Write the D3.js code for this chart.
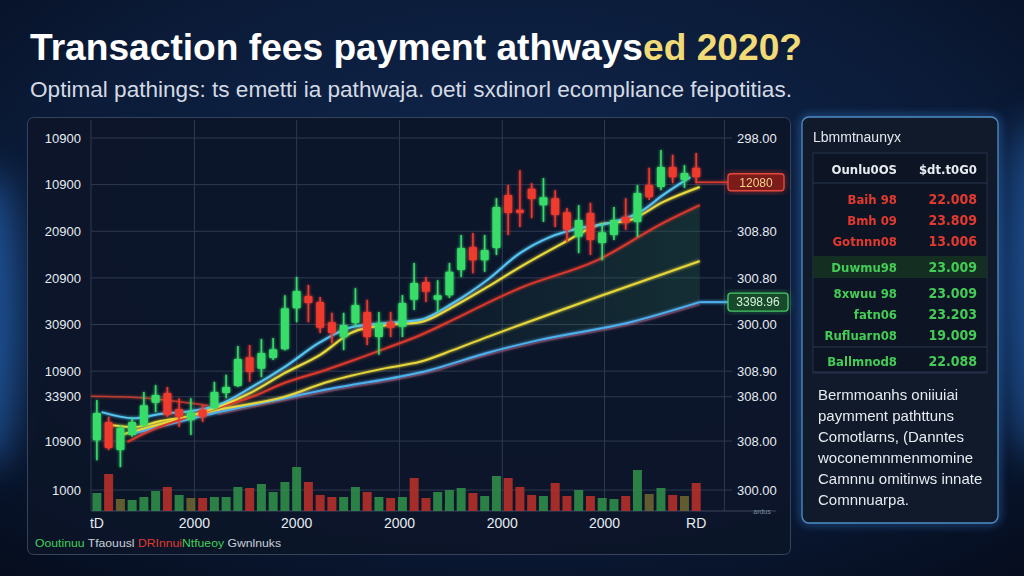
<!DOCTYPE html>
<html>
<head>
<meta charset="utf-8">
<script src="https://cdn.jsdelivr.net/npm/d3@7"></script>
<style>
  html, body { margin: 0; padding: 0; background: #0a1630; overflow: hidden; }
  svg { display: block; }
</style>
</head>
<body>
<svg id="chart" width="1024" height="576"></svg>
<script>
const width = 1024, height = 576;

// ---- data ----
const opens  = [25.2,29.1,23.1,26.3,28.4,33.2,35.3,31.9,29.5,31.7, 32.1,35.3,36.8,43.0,40.5,42.8,44.7,53.5,56.1,54.8,
                50.5,47.3,50.3,52.7,47.3,50.5,49.5,55.3,59.1,55.3, 56.3,61.7,66.6,63.8,66.4,77.8,74.6,79.1,75.6,77.1,
                74.1,68.8,73.9,67.5,69.2,73.1,72.0,79.9,79.5,83.8, 81.0,83.6];
const closes = [31.0,23.5,27.8,29.1,32.7,34.9,30.6,30.2,31.2,30.2, 35.5,36.6,42.6,39.8,43.9,44.7,53.5,57.2,54.6,49.3,
                48.2,49.9,54.2,47.3,50.3,49.3,54.6,58.9,57.0,56.3, 61.3,66.4,63.8,66.0,75.2,73.9,73.9,76.9,77.3,73.5,
                70.3,72.4,68.1,69.8,72.4,71.8,78.2,77.3,83.8,81.6, 82.5,81.6];
const highs  = [33.8,30.2,28.4,29.9,35.5,37.0,36.6,34.2,34.2,32.7, 37.7,39.2,45.4,45.6,46.9,47.1,56.3,60.2,58.5,55.9,
                52.5,52.5,57.8,55.3,52.7,52.7,56.3,63.2,60.2,59.5, 63.2,69.2,69.6,69.2,77.1,79.9,83.1,80.3,81.4,78.8,
                75.0,75.6,76.1,71.8,75.2,77.1,79.9,83.6,87.4,86.4, 84.2,86.8];
const lows   = [20.9,23.1,19.4,25.9,28.0,31.2,30.2,28.0,26.3,29.1, 31.7,34.2,36.6,37.7,38.7,42.4,44.5,50.5,50.5,48.2,
                46.0,44.5,49.5,45.6,43.5,47.3,47.3,53.1,54.8,52.7, 55.7,60.2,61.0,61.3,64.9,69.2,70.9,72.8,72.0,70.9,
                67.7,65.3,64.9,63.8,68.1,70.3,68.8,76.7,78.8,80.3, 79.3,80.3];
const volumes = [18,37,12,11,14,20,24,16,13,13, 14,14,24,23,27,19,29,44,29,16,
                 14,14,24,19,14,13,14,33,13,19, 21,23,18,15,35,33,24,16,15,28,
                 15,21,15,13,12,15,41,17,23,16, 15,28];
const volumeKinds = "GROGGGRGORGGGRGGGGRRRGGRGRGRRGGGRGGRRRGRRGRGGRGOGROR".split("");

// moving averages: [candle index, value]
const maFastCyan = [[0.4,31.2],[3.1,29.9],[5.4,30.8],[7.9,31.4],[10.3,32.7],[13.2,36.6],[16,40.9],[19,46.2],[21.8,49.5],
                    [24.7,50.3],[27.5,51.0],[30.3,54.6],[33.2,59.5],[36,65.3],[38.6,68.8],[41.1,70.7],[43.7,71.8],
                    [46.2,74.1],[48.2,77.8],[50.5,81.6]];
const maYellow = [[1.3,28.4],[3.2,28.0],[5.4,29.3],[7.9,30.4],[10.3,32.3],[13.2,35.5],[16,39.6],[19,43.5],[21.8,48.4],
                  [24.7,49.9],[27.5,50.5],[30.3,53.8],[33.2,58.0],[36,62.3],[39.7,67.5],[42.6,71.3],[45.4,72.4],
                  [48.2,76.3],[51.3,79.5]];
const maRed = [[2.6,24.8],[4.7,27.4],[7.5,29.9],[10.3,32.1],[13.2,34.5],[16,37.5],[19.4,40.2],[24.7,45.0],[27.5,47.7],
               [30.3,51.0],[33.2,54.6],[36,57.8],[42.6,63.8],[48.2,71.8],[51.3,75.6]];
const maSlowYellow = [[2,26.3],[10.3,31.7],[16,34.5],[19.4,37.5],[24.7,40.7],[27.5,42.0],[30.3,44.5],[33.2,47.3],
                      [36,49.9],[42.6,55.9],[51.3,63.6]];
const maSlowBlue = [[3.2,26.7],[10.3,31.2],[16,34.2],[19.4,36.0],[28.3,40.2],[33.2,43.9],[37.7,46.7],[45.4,50.5],[51.3,54.8]];
const maSlowPink = [[10.3,30.7],[16,33.7],[19.4,35.5],[28.3,39.7],[33.2,43.4],[37.7,46.2],[45.4,50.0],[51.3,54.3]];
const leftLevel = [[-0.5,34.6],[3.7,34.3],[9.5,32.6]];

const lastPrice = 80.5, lastPriceLabel = "12080";
const slowPriceLabel = "3398.96";

const yTickValues = [90, 80, 70, 60, 50, 40, 34.5, 25, 14.5];
const yLeftLabels = ["10900","10900","20900","20900","30900","10900","33900","10900","1000"];
const yRightLabels = ["298.00","","308.80","300.80","300.00","308.90","308.00","308.00","300.00"];
const xGridValues = [-0.5, 8.3, 17, 25.75, 34.5, 43.2, 53.4];
const xTickValues = [0, 8.3, 17, 25.75, 34.5, 43.2, 51];
const xTickLabels = ["tD","2000","2000","2000","2000","2000","RD"];

const legendParts = [
  {text: "Ooutinuu ", kind: "up"}, {text: "Tfaouusl  ", kind: "plain"},
  {text: "DRInnui", kind: "down"}, {text: "Ntfueoy ", kind: "up"}, {text: "Gwnlnuks", kind: "plain"}
];

const panelTitle = "Lbmmtnaunyx";
const tableHeader = ["Ounlu0OS", "$dt.t0G0"];
const rowNames  = ["Baih 98","Bmh 09","Gotnnn08","Duwmu98","8xwuu 98","fatn06","Rufluarn08","Ballmnod8"];
const rowValues = ["22.008","23.809","13.006","23.009","23.009","23.203","19.009","22.088"];
const rowKinds  = ["down","down","down","up","up","up","up","up"];
const rowGroups = [0,0,0,1,2,2,2,3];
const noteLines = ["Bermmoanhs oniiuiai","paymment pathttuns","Comotlarns, (Danntes",
                   "woconemnmenmomine","Camnnu omitinws innate","Comnnuarpa."];

const titleMain = "Transaction fees payment athways", titleTail = "ed 2020?";
const subtitle = "Optimal pathings: ts emetti ia pathwaja. oeti sxdinorl ecompliance feipotitias.";

// ---- drawing ----
const svg = d3.select("#chart");
const defs = svg.append("defs");

const bg = defs.append("radialGradient").attr("id", "bg").attr("cx", "50%").attr("cy", "40%").attr("r", "80%");
bg.append("stop").attr("offset", "0%").attr("stop-color", "#112850");
bg.append("stop").attr("offset", "60%").attr("stop-color", "#0b1b38");
bg.append("stop").attr("offset", "100%").attr("stop-color", "#050c1c");

const glow = defs.append("filter").attr("id", "glow").attr("x", "-50%").attr("y", "-50%").attr("width", "200%").attr("height", "200%");
glow.append("feGaussianBlur").attr("stdDeviation", 1.8).attr("result", "b");
const gm = glow.append("feMerge");
gm.append("feMergeNode").attr("in", "b");
gm.append("feMergeNode").attr("in", "SourceGraphic");

const soft = defs.append("filter").attr("id", "soft").attr("x", "-50%").attr("y", "-50%").attr("width", "200%").attr("height", "200%");
soft.append("feGaussianBlur").attr("stdDeviation", 18);

const edge = defs.append("filter").attr("id", "edge").attr("x", "-20%").attr("y", "-20%").attr("width", "140%").attr("height", "140%");
edge.append("feGaussianBlur").attr("stdDeviation", 4);

const fillGrad = defs.append("linearGradient").attr("id", "bandFill")
  .attr("gradientUnits", "userSpaceOnUse").attr("x1", 380).attr("x2", 700).attr("y1", 0).attr("y2", 0);
fillGrad.append("stop").attr("offset", "0%").attr("stop-color", "#2f7a50").attr("stop-opacity", 0);
fillGrad.append("stop").attr("offset", "100%").attr("stop-color", "#2f7a50").attr("stop-opacity", 0.24);

svg.append("rect").attr("width", width).attr("height", height).attr("fill", "url(#bg)");
// blue edge glows
svg.append("ellipse").attr("cx", -10).attr("cy", 320).attr("rx", 30).attr("ry", 150)
  .attr("fill", "#2f7fe0").attr("opacity", 0.55).attr("filter", "url(#soft)");
svg.append("ellipse").attr("cx", 1034).attr("cy", 290).attr("rx", 30).attr("ry", 170)
  .attr("fill", "#2f7fe0").attr("opacity", 0.5).attr("filter", "url(#soft)");

// title
const title = svg.append("text").attr("x", 30).attr("y", 60)
  .attr("font-family", "'Liberation Sans', Arial, sans-serif").attr("font-weight", "bold")
  .attr("font-size", 37).attr("textLength", 772).attr("lengthAdjust", "spacingAndGlyphs");
title.append("tspan").attr("fill", "#ffffff").text(titleMain);
title.append("tspan").attr("fill", "#f2db76").text(titleTail);

svg.append("text").attr("x", 30).attr("y", 97)
  .attr("font-family", "'Liberation Sans Narrow', 'Liberation Sans', sans-serif")
  .attr("font-size", 22).attr("fill", "#d3dae4")
  .attr("textLength", 762).attr("lengthAdjust", "spacingAndGlyphs")
  .text(subtitle);

// chart panel
svg.append("rect").attr("x", 27.5).attr("y", 117.5).attr("width", 763).attr("height", 437).attr("rx", 6)
  .attr("fill", "#0c1528").attr("fill-opacity", 0.9).attr("stroke", "#36445b").attr("stroke-width", 1);

const x = d3.scaleLinear().domain([-0.5, 53.4]).range([91, 724.4]);
const y = d3.scaleLinear().domain([10, 90]).range([511, 138]);
const yVol = d3.scaleLinear().domain([0, 50]).range([511, 461]);

const grid = svg.append("g");
grid.selectAll("line.h").data(yTickValues).enter().append("line")
  .attr("x1", 91).attr("x2", 732).attr("y1", d => y(d)).attr("y2", d => y(d))
  .attr("stroke", "#2d3a50").attr("stroke-width", 1);
grid.selectAll("line.v").data(xGridValues).enter().append("line")
  .attr("x1", d => x(d)).attr("x2", d => x(d)).attr("y1", 120).attr("y2", 511)
  .attr("stroke", "#2d3a50").attr("stroke-width", 1);
grid.append("line").attr("x1", 91).attr("x2", 776).attr("y1", 511).attr("y2", 511)
  .attr("stroke", "#3a4860").attr("stroke-width", 1);

const labelFont = "'Liberation Sans', Arial, sans-serif";
svg.append("g").selectAll("text").data(yTickValues).enter().append("text")
  .attr("x", 81).attr("y", d => y(d)).attr("dy", "0.36em").attr("text-anchor", "end")
  .attr("font-family", labelFont).attr("font-size", 13).attr("fill", "#e6ecf3")
  .text((d, i) => yLeftLabels[i]);
svg.append("g").selectAll("text").data(yTickValues).enter().append("text")
  .attr("x", 737).attr("y", d => y(d)).attr("dy", "0.36em")
  .attr("font-family", labelFont).attr("font-size", 13).attr("fill", "#e6ecf3")
  .text((d, i) => yRightLabels[i]);
svg.append("text").attr("x", 762).attr("y", 512).attr("dy", "0.35em").attr("text-anchor", "middle")
  .attr("font-family", labelFont).attr("font-size", 7).attr("fill", "#7f8c9c").text("ardus");

svg.append("g").selectAll("text").data(xTickValues).enter().append("text")
  .attr("x", d => x(d)).attr("y", 528).attr("text-anchor", "middle")
  .attr("font-family", labelFont).attr("font-size", 14).attr("fill", "#e6ecf3")
  .text((d, i) => xTickLabels[i]);

// legend
const legendColor = {up: "#3fcf5a", down: "#e03a30", plain: "#c9d0da"};
const legend = svg.append("text").attr("x", 35).attr("y", 547)
  .attr("font-family", "'Liberation Sans Narrow', 'Liberation Sans', sans-serif").attr("font-size", 11)
  .attr("textLength", 246).attr("lengthAdjust", "spacingAndGlyphs");
legend.selectAll("tspan").data(legendParts).enter().append("tspan")
  .attr("fill", d => legendColor[d.kind]).text(d => d.text);

// volume bars
const volColor = {G: "#2f8c49", R: "#b5302a", O: "#6a6430"};
svg.append("g").selectAll("rect").data(volumes).enter().append("rect")
  .attr("x", (d, i) => x(i) - 4.5).attr("width", 9)
  .attr("y", d => yVol(d)).attr("height", d => yVol(0) - yVol(d))
  .attr("fill", (d, i) => volColor[volumeKinds[i]]).attr("opacity", 0.9);

// shaded band between red MA and slow blue MA
const line = d3.line().x(d => x(d[0])).y(d => y(d[1])).curve(d3.curveMonotoneX);
const bandPath = line(maRed) + "L" + line(maSlowBlue.slice().reverse()).slice(1) + "Z";
svg.append("path").attr("d", bandPath).attr("fill", "url(#bandFill)");

// moving averages
const lineGroup = svg.append("g").attr("filter", "url(#glow)");
const maSeries = [
  {pts: leftLevel, color: "#d8402f", w: 1.6, op: 0.8},
  {pts: maSlowPink, color: "#c8485c", w: 1.6, op: 0.35},
  {pts: maSlowBlue, color: "#4fb0ee", w: 2, op: 1},
  {pts: maSlowYellow, color: "#e6d63a", w: 2, op: 1},
  {pts: maRed, color: "#d9392b", w: 2, op: 1},
  {pts: maYellow, color: "#eadb3c", w: 2, op: 1},
  {pts: maFastCyan, color: "#55c6f2", w: 2, op: 1}
];
lineGroup.selectAll("path").data(maSeries).enter().append("path")
  .attr("d", d => line(d.pts)).attr("fill", "none")
  .attr("stroke", d => d.color).attr("stroke-width", d => d.w).attr("opacity", d => d.op);

// level lines to the price tags
const lastSlow = maSlowBlue[maSlowBlue.length - 1];
lineGroup.append("line").attr("x1", x(lastSlow[0])).attr("x2", 728)
  .attr("y1", y(lastSlow[1])).attr("y2", y(lastSlow[1])).attr("stroke", "#4fb0ee").attr("stroke-width", 2);
lineGroup.append("line").attr("x1", x(opens.length - 1)).attr("x2", 728)
  .attr("y1", y(lastPrice)).attr("y2", y(lastPrice)).attr("stroke", "#d83a30").attr("stroke-width", 1.6);

// candles
const candles = svg.append("g").attr("filter", "url(#glow)")
  .selectAll("g").data(opens.map((o, i) => ({i, o, c: closes[i], h: highs[i], l: lows[i]})))
  .enter().append("g");
const candleColor = d => d.c >= d.o ? "#37dc69" : "#ee3a2f";
candles.append("line")
  .attr("x1", d => x(d.i)).attr("x2", d => x(d.i)).attr("y1", d => y(d.h)).attr("y2", d => y(d.l))
  .attr("stroke", candleColor).attr("stroke-width", 1.6);
candles.append("rect")
  .attr("x", d => x(d.i) - 4).attr("width", 8)
  .attr("y", d => y(Math.max(d.o, d.c))).attr("height", d => Math.max(2, Math.abs(y(d.o) - y(d.c))))
  .attr("rx", 1).attr("fill", candleColor);

// price tags
const redTag = svg.append("g").attr("transform", `translate(728,${y(lastPrice)})`);
redTag.append("rect").attr("x", 0).attr("y", -9).attr("width", 56).attr("height", 18).attr("rx", 3)
  .attr("fill", "#e03a30").attr("opacity", 0.6).attr("filter", "url(#edge)");
redTag.append("rect").attr("x", 0).attr("y", -8.5).attr("width", 56).attr("height", 17).attr("rx", 3)
  .attr("fill", "#7c1c1a").attr("stroke", "#e2483c").attr("stroke-width", 1.4);
redTag.append("text").attr("x", 28).attr("dy", "0.36em").attr("text-anchor", "middle")
  .attr("font-family", labelFont).attr("font-size", 12).attr("fill", "#f2d48a").text(lastPriceLabel);

const greenTag = svg.append("g").attr("transform", `translate(728,${y(lastSlow[1])})`);
greenTag.append("rect").attr("x", 0).attr("y", -9).attr("width", 60).attr("height", 18).attr("rx", 3)
  .attr("fill", "#3fc060").attr("opacity", 0.5).attr("filter", "url(#edge)");
greenTag.append("rect").attr("x", 0).attr("y", -9).attr("width", 60).attr("height", 18).attr("rx", 3)
  .attr("fill", "#174a2a").attr("stroke", "#45c464").attr("stroke-width", 1.4);
greenTag.append("text").attr("x", 30).attr("dy", "0.36em").attr("text-anchor", "middle")
  .attr("font-family", labelFont).attr("font-size", 12).attr("fill", "#d6f2d8").text(slowPriceLabel);

// side panel
const panel = svg.append("g");
panel.append("rect").attr("x", 802).attr("y", 117).attr("width", 196).attr("height", 406).attr("rx", 7)
  .attr("fill", "none").attr("stroke", "#3d8fe8").attr("stroke-width", 4).attr("opacity", 0.6).attr("filter", "url(#edge)");
panel.append("rect").attr("x", 802).attr("y", 117).attr("width", 196).attr("height", 406).attr("rx", 7)
  .attr("fill", "#111a2b").attr("stroke", "#4f8fc8").attr("stroke-width", 1.3);
panel.append("text").attr("x", 813).attr("y", 142)
  .attr("font-family", "'Liberation Sans Narrow', 'Liberation Sans', sans-serif").attr("font-size", 14)
  .attr("fill", "#e4e9f0").text(panelTitle);

panel.append("rect").attr("x", 813).attr("y", 153).attr("width", 174).attr("height", 220)
  .attr("fill", "#0d1524").attr("stroke", "#27324a").attr("stroke-width", 1);
const rowY = (i) => 199 + i * 21 + rowGroups[i] * 5;
panel.append("rect").attr("x", 813).attr("y", rowY(3) - 11).attr("width", 174).attr("height", 22)
  .attr("fill", "#173522").attr("opacity", 0.8);
[183, 347, 372].forEach(yy => panel.append("line").attr("x1", 813).attr("x2", 987)
  .attr("y1", yy).attr("y2", yy).attr("stroke", "#2b3850").attr("stroke-width", 1));

const tableFont = "'DejaVu Sans Condensed', 'Liberation Sans Narrow', sans-serif";
panel.append("text").attr("x", 897).attr("y", 169).attr("dy", "0.36em").attr("text-anchor", "end")
  .attr("font-family", tableFont).attr("font-weight", "bold").attr("font-size", 13).attr("fill", "#e8ecf2").text(tableHeader[0]);
panel.append("text").attr("x", 977).attr("y", 169).attr("dy", "0.36em").attr("text-anchor", "end")
  .attr("font-family", tableFont).attr("font-weight", "bold").attr("font-size", 13).attr("fill", "#e8ecf2").text(tableHeader[1]);

const rowColor = {up: "#43cc56", down: "#e4392f"};
const rows = panel.selectAll("g.row").data(rowNames).enter().append("g");
rows.append("text").attr("x", 897).attr("y", (d, i) => rowY(i)).attr("dy", "0.36em").attr("text-anchor", "end")
  .attr("font-family", tableFont).attr("font-weight", "bold").attr("font-size", 13)
  .attr("fill", (d, i) => rowColor[rowKinds[i]]).text(d => d);
rows.append("text").attr("x", 977).attr("y", (d, i) => rowY(i)).attr("dy", "0.36em").attr("text-anchor", "end")
  .attr("font-family", tableFont).attr("font-weight", "bold").attr("font-size", 14)
  .attr("fill", (d, i) => rowColor[rowKinds[i]]).text((d, i) => rowValues[i]);

panel.selectAll("text.note").data(noteLines).enter().append("text")
  .attr("x", 818).attr("y", (d, i) => 400 + i * 21)
  .attr("font-family", "'Liberation Sans Narrow', 'Liberation Sans', sans-serif").attr("font-size", 15)
  .attr("fill", "#e6ebf1").text(d => d);
</script>
</body>
</html>
